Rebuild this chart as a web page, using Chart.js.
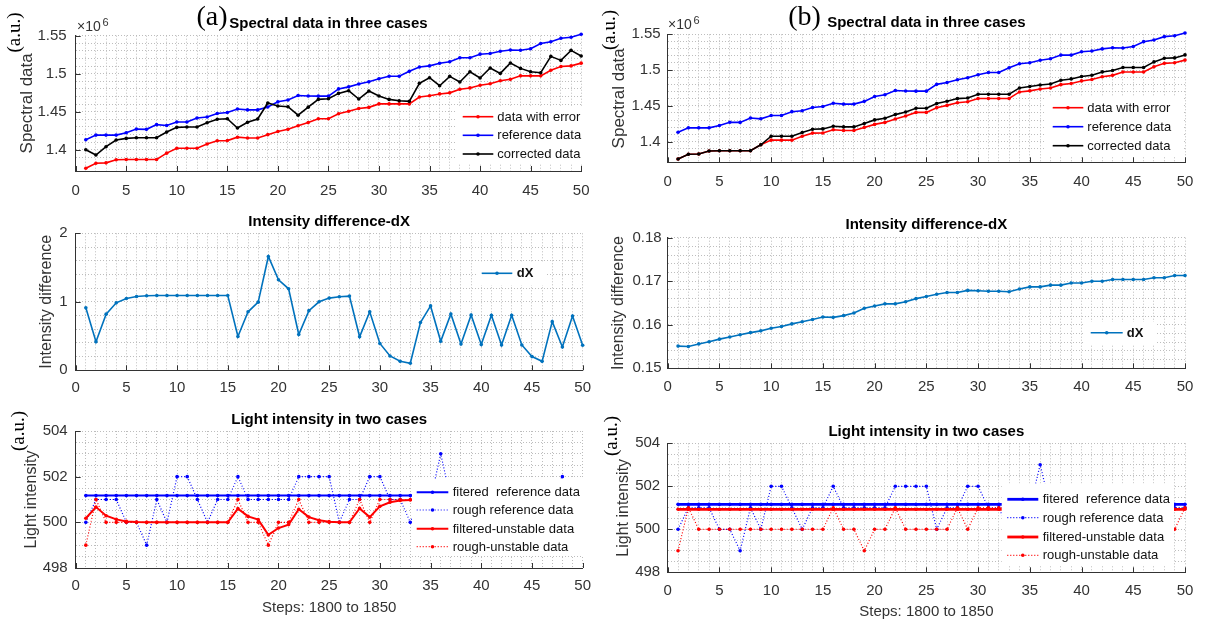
<!DOCTYPE html>
<html>
<head>
<meta charset="utf-8">
<script src="https://cdn.jsdelivr.net/npm/chart.js@4.4.1/dist/chart.umd.min.js"></script>
<style>
  body { margin: 0; background: #fff; }
  #wrap { position: relative; width: 1208px; height: 626px; overflow: hidden; background: #fff; }
  #wrap canvas { position: absolute; }
</style>
</head>
<body>
<div id="wrap"></div>
<script>
// ---- data ----
const steps = [1,2,3,4,5,6,7,8,9,10,11,12,13,14,15,16,17,18,19,20,21,22,23,24,25,
  26,27,28,29,30,31,32,33,34,35,36,37,38,39,40,41,42,43,44,45,46,47,48,49,50];
const xTickLabels = [0, 5, 10, 15, 20, 25, 30, 35, 40, 45, 50];

// spectral data, in units of 1e6
const dataWithError = [1.3757,1.3822,1.3827,1.3868,1.3872,1.3872,1.3872,1.3872,1.3955,1.4020,
  1.4020,1.4020,1.4075,1.4118,1.4120,1.4165,1.4155,1.4155,1.4198,1.4240,
  1.4268,1.4316,1.4357,1.4408,1.4408,1.4474,1.4506,1.4542,1.4557,1.4603,
  1.4603,1.4603,1.4603,1.4694,1.4709,1.4734,1.4748,1.4796,1.4813,1.4848,
  1.4868,1.4907,1.4926,1.4972,1.4972,1.4972,1.5045,1.5094,1.5103,1.5139];
const referenceData = [1.4131,1.4192,1.4192,1.4192,1.4224,1.4271,1.4268,1.4330,1.4318,1.4364,
  1.4364,1.4418,1.4431,1.4477,1.4490,1.4535,1.4524,1.4524,1.4562,1.4630,
  1.4655,1.4714,1.4707,1.4705,1.4705,1.4800,1.4827,1.4864,1.4893,1.4934,
  1.4966,1.4966,1.5031,1.5088,1.5103,1.5137,1.5158,1.5209,1.5209,1.5257,
  1.5266,1.5296,1.5311,1.5308,1.5329,1.5397,1.5420,1.5467,1.5480,1.5519];
const correctedA = [1.4000,1.3930,1.4040,1.4127,1.4149,1.4158,1.4158,1.4158,1.4232,1.4294,
  1.4298,1.4298,1.4355,1.4400,1.4408,1.4285,1.4360,1.4404,1.4614,1.4575,
  1.4566,1.4454,1.4560,1.4662,1.4671,1.4741,1.4776,1.4667,1.4772,1.4706,
  1.4662,1.4645,1.4636,1.4873,1.4947,1.4842,1.4965,1.4890,1.5026,1.4943,
  1.5075,1.5004,1.5140,1.5070,1.5026,1.5013,1.5228,1.5175,1.5307,1.5232];
const correctedB = [1.3757,1.3822,1.3827,1.3868,1.3872,1.3872,1.3872,1.3872,1.3955,1.4075,
  1.4075,1.4075,1.4126,1.4172,1.4177,1.4214,1.4205,1.4205,1.4251,1.4303,
  1.4326,1.4377,1.4414,1.4466,1.4466,1.4531,1.4564,1.4601,1.4610,1.4661,
  1.4661,1.4661,1.4661,1.4750,1.4769,1.4792,1.4806,1.4858,1.4876,1.4909,
  1.4927,1.4974,1.4993,1.5035,1.5035,1.5035,1.5114,1.5165,1.5170,1.5212];
const spectralTicks = [1.4, 1.45, 1.5, 1.55];

// intensity difference
const dXA = [0.912,0.418,0.820,0.985,1.049,1.078,1.088,1.092,1.092,1.092,
  1.092,1.092,1.092,1.092,1.092,0.494,0.854,0.995,1.662,1.321,
  1.190,0.522,0.871,1.000,1.054,1.073,1.083,0.489,0.854,0.392,
  0.209,0.131,0.102,0.696,0.940,0.423,0.822,0.384,0.808,0.375,
  0.803,0.370,0.803,0.370,0.200,0.131,0.710,0.340,0.793,0.365];
const dXB = [0.1551,0.1550,0.1556,0.1561,0.1567,0.1572,0.1577,0.1582,0.1586,0.1592,
  0.1596,0.1602,0.1607,0.1612,0.1618,0.1617,0.1621,0.1627,0.1638,0.1643,
  0.1648,0.1648,0.1653,0.1660,0.1665,0.1670,0.1674,0.1674,0.1679,0.1678,
  0.1677,0.1677,0.1676,0.1682,0.1687,0.1687,0.1691,0.1691,0.1696,0.1696,
  0.1700,0.1700,0.1704,0.1704,0.1704,0.1704,0.1708,0.1708,0.1713,0.1713];
const dxTicksA = [0, 1, 2];
const dxTicksB = [0.15, 0.16, 0.17, 0.18];

// light intensity
const roughReference = [500,501,501,501,500,500,499,501,500,502,
  502,501,500,501,501,502,501,501,501,501,
  501,502,502,502,502,500,501,501,502,502,
  501,501,500,501,501,503,501,501,501,501,
  501,501,501,501,501,501,501,502,501,501];
const roughUnstable = [499,501,500,500,500,500,500,500,500,500,
  500,500,500,500,500,501,500,500,499,500,
  500,501,500,500,500,500,500,501,500,501,
  501,501,501,501,501,501,501,501,501,501,
  501,501,501,501,501,501,501,501,500,501];
const filteredReferenceA = [501.17,501.17,501.17,501.17,501.17,501.17,501.17,501.17,501.17,501.17,
  501.17,501.17,501.17,501.17,501.17,501.17,501.17,501.17,501.17,501.17,
  501.17,501.17,501.17,501.17,501.17,501.17,501.17,501.17,501.17,501.17,
  501.17,501.17,501.17,501.17,501.17,501.17,501.17,501.17,501.17,501.17,
  501.17,501.17,501.17,501.17,501.17,501.17,501.17,501.17,501.17,501.17];
const filteredUnstableA = [500.18,500.67,500.29,500.13,500.04,500.01,500.00,500.00,500.00,500.00,
  500.00,500.00,500.00,500.00,500.00,500.60,500.26,500.12,499.45,499.75,
  499.90,500.57,500.23,500.09,500.03,500.00,500.00,500.61,500.23,500.70,
  500.88,500.96,500.98,501.00,501.00,501.00,501.00,501.00,501.00,501.00,
  501.00,501.00,501.00,501.00,501.00,501.00,501.00,500.30,500.13,500.73];
const filteredReferenceB = [501.16,501.16,501.16,501.16,501.16,501.16,501.16,501.16,501.16,501.16,
  501.16,501.16,501.16,501.16,501.16,501.16,501.16,501.16,501.16,501.16,
  501.16,501.16,501.16,501.16,501.16,501.16,501.16,501.16,501.16,501.16,
  501.16,501.16,501.16,501.16,501.16,501.16,501.16,501.16,501.16,501.16,
  501.16,501.16,501.16,501.16,501.16,501.16,501.16,501.16,501.16,501.16];
const filteredUnstableB = [500.93,500.93,500.93,500.93,500.93,500.93,500.93,500.93,500.93,500.93,
  500.93,500.93,500.93,500.93,500.93,500.93,500.93,500.93,500.93,500.93,
  500.93,500.93,500.93,500.93,500.93,500.93,500.93,500.93,500.93,500.93,
  500.93,500.93,500.93,500.93,500.93,500.93,500.93,500.93,500.93,500.93,
  500.93,500.93,500.93,500.93,500.93,500.93,500.93,500.93,500.93,500.93];
const lightTicks = [498, 500, 502, 504];

// ---- drawing ----
const SANS = '"Liberation Sans", Arial, sans-serif';
const SERIF = '"Liberation Serif", "Times New Roman", serif';
const AXIS = '#333333';
const GRID = '#bdbdbd';
const DOT = [1, 2];

function line(label, values, color, width, dash) {
  return {
    label,
    data: values.map((v, i) => ({ x: steps[i], y: v })),
    borderColor: color,
    backgroundColor: color,
    pointBackgroundColor: color,
    pointBorderWidth: 0,
    pointRadius: 1.8,
    borderWidth: width,
    borderDash: dash || [],
    tension: 0,
    fill: false,
    clip: 6
  };
}

function labeler(list) {
  return v => {
    const hit = list.find(t => Math.abs(t - v) < 1e-7);
    return hit === undefined ? '' : String(hit);
  };
}

// legend drawn inside the plot, MATLAB style
const boxLegend = {
  id: 'boxLegend',
  afterDatasetsDraw(chart, args, o) {
    if (!o || !o.rows) return;
    const ctx = chart.ctx;
    const ox = o.ox, oy = o.oy;
    ctx.save();
    ctx.fillStyle = '#ffffff';
    ctx.fillRect(o.box[0] - ox, o.box[1] - oy, o.box[2] - o.box[0], o.box[3] - o.box[1]);
    ctx.font = o.font;
    ctx.textBaseline = 'middle';
    ctx.textAlign = 'left';
    chart.data.datasets.forEach((ds, i) => {
      const y = o.rows[i] - oy;
      const x1 = o.x1 - ox, x2 = o.x2 - ox;
      ctx.strokeStyle = ds.borderColor;
      ctx.lineWidth = ds.borderWidth;
      ctx.setLineDash(ds.borderDash);
      ctx.beginPath();
      ctx.moveTo(x1, y);
      ctx.lineTo(x2, y);
      ctx.stroke();
      ctx.setLineDash([]);
      ctx.fillStyle = ds.borderColor;
      ctx.beginPath();
      ctx.arc((x1 + x2) / 2, y, ds.pointRadius, 0, Math.PI * 2);
      ctx.fill();
      ctx.fillStyle = '#111111';
      ctx.fillText(ds.label, o.tx - ox, y + 0.5);
    });
    ctx.restore();
  }
};

// small inward tick marks at the labelled ticks
const inTicks = {
  id: 'inTicks',
  afterDraw(chart, args, o) {
    if (!o || !o.yList) return;
    const { ctx, chartArea: a, scales: { x, y } } = chart;
    ctx.save();
    ctx.strokeStyle = AXIS;
    ctx.lineWidth = 1;
    ctx.beginPath();
    xTickLabels.forEach(v => {
      const px = Math.round(x.getPixelForValue(v)) + 0.5;
      ctx.moveTo(px, a.bottom);
      ctx.lineTo(px, a.bottom - 5);
    });
    o.yList.forEach(v => {
      const py = Math.round(y.getPixelForValue(v)) + 0.5;
      ctx.moveTo(a.left, py);
      ctx.lineTo(a.left + 5, py);
    });
    ctx.stroke();
    ctx.restore();
  }
};

// free text: panel letters, units, exponent
const notes = {
  id: 'notes',
  afterDraw(chart, args, o) {
    if (!o || !o.items) return;
    const ctx = chart.ctx;
    o.items.forEach(n => {
      ctx.save();
      ctx.translate(n.x - o.ox, n.y - o.oy);
      if (n.rot) ctx.rotate(n.rot);
      ctx.font = n.font;
      ctx.fillStyle = n.color || '#000';
      ctx.textAlign = n.align || 'center';
      ctx.textBaseline = 'middle';
      ctx.fillText(n.text, 0, 0);
      ctx.restore();
    });
  }
};

function panel(p) {
  const cv = document.createElement('canvas');
  cv.width = p.box[2];
  cv.height = p.box[3];
  cv.style.left = p.box[0] + 'px';
  cv.style.top = p.box[1] + 'px';
  document.getElementById('wrap').appendChild(cv);

  const [cx, cy, cw, ch] = p.box;
  const [al, at, ar, ab] = p.area;
  p.datasets.forEach((d, i) => { d.order = p.datasets.length - i; });

  new Chart(cv.getContext('2d'), {
    type: 'line',
    data: { datasets: p.datasets },
    options: {
      responsive: false,
      animation: false,
      events: [],
      layout: { autoPadding: false, padding: { left: 0, top: 0, bottom: 0, right: cw - (ar - cx) } },
      scales: {
        x: {
          type: 'linear', min: 0, max: 50,
          afterFit: s => { s.height = cy + ch - ab; },
          grid: { color: GRID, lineWidth: 1, drawTicks: false },
          border: { color: AXIS, width: 1, dash: [1, 2] },
          ticks: { stepSize: 1, autoSkip: false, maxRotation: 0, padding: p.xPad,
                   color: AXIS, font: { family: SANS, size: 15 },
                   callback: labeler(xTickLabels) },
          title: p.xTitle ? { display: true, text: p.xTitle, color: AXIS,
                   font: { family: SANS, size: 15 }, padding: { top: 0, bottom: p.xTitlePad } }
                 : { display: false }
        },
        y: {
          type: 'linear', min: p.yMin, max: p.yMax,
          afterFit: s => { s.width = al - cx; },
          grid: { color: GRID, lineWidth: 1, drawTicks: false },
          border: { color: AXIS, width: 1, dash: [1, 2] },
          ticks: { stepSize: p.yStep, autoSkip: false, padding: p.yPad,
                   color: AXIS, font: { family: SANS, size: 15 },
                   callback: labeler(p.yTicks) },
          title: { display: true, text: p.yTitle, color: AXIS,
                   font: { family: SANS, size: p.yTitleSize },
                   padding: { top: p.yTitleX - cx - p.yTitleSize * 0.6, bottom: 0 } }
        }
      },
      plugins: {
        legend: { display: false },
        tooltip: { enabled: false },
        title: {
          display: true, text: p.title, fullSize: false, color: '#000',
          font: { family: SANS, size: 15, weight: 'bold' },
          padding: { top: p.titleY - cy - 9, bottom: at - p.titleY - 9 }
        },
        boxLegend: Object.assign({ ox: cx, oy: cy }, p.legend),
        inTicks: { yList: p.yTicks },
        notes: { ox: cx, oy: cy, items: p.notes || [] }
      }
    },
    plugins: [boxLegend, inTicks, notes]
  });
}

const up = -Math.PI / 2;

panel({
  box: [0, 0, 600, 200], area: [75.7, 35.7, 594, 171],
  title: 'Spectral data in three cases', titleY: 24,
  yTitle: 'Spectral data', yTitleSize: 17, yTitleX: 27,
  yMin: 1.372, yMax: 1.55, yStep: 0.01, yTicks: spectralTicks, xPad: 10.5, yPad: 9,
  datasets: [
    line('data with error', dataWithError, '#ff0000', 1.6),
    line('reference data', referenceData, '#0000ff', 1.6),
    line('corrected data', correctedA, '#000000', 1.6)
  ],
  legend: { box: [455, 106, 591, 164], x1: 462.7, x2: 493.3, tx: 497.3,
            rows: [116.7, 135.3, 154], font: '13px ' + SANS },
  notes: [
    { text: '(a)', x: 212, y: 18, font: '28px ' + SERIF },
    { text: '(a.u.)', x: 15, y: 32.5, rot: up, font: '19px ' + SERIF },
    { text: '\u00d710', x: 77, y: 27, align: 'left', font: '14px ' + SANS, color: AXIS },
    { text: '6', x: 102.5, y: 22.5, align: 'left', font: '11px ' + SANS, color: AXIS }
  ]
});

panel({
  box: [0, 200, 600, 200], area: [75.7, 233.3, 594, 370.3],
  title: 'Intensity difference-dX', titleY: 221.7,
  yTitle: 'Intensity difference', yTitleSize: 16, yTitleX: 47,
  yMin: 0, yMax: 2, yStep: 0.2, yTicks: dxTicksA, xPad: 9, yPad: 8,
  datasets: [ line('dX', dXA, '#0072bd', 1.6) ],
  legend: { box: [476, 262, 546, 285], x1: 481.7, x2: 512.3, tx: 516.7,
            rows: [273.3], font: 'bold 13px ' + SANS }
});

panel({
  box: [0, 400, 600, 226], area: [75.7, 431, 594, 568],
  title: 'Light intensity in two cases', titleY: 420,
  yTitle: 'Light intensity', yTitleSize: 16, yTitleX: 32,
  xTitle: 'Steps: 1800 to 1850', xTitlePad: 9.5,
  yMin: 498, yMax: 504, yStep: 0.5, yTicks: lightTicks, xPad: 9, yPad: 8,
  datasets: [
    line('fitered  reference data', filteredReferenceA, '#0000ff', 2),
    line('rough reference data', roughReference, '#0000ff', 1.2, DOT),
    line('filtered-unstable data', filteredUnstableA, '#ff0000', 2),
    line('rough-unstable data', roughUnstable, '#ff0000', 1.2, DOT)
  ],
  legend: { box: [412, 479, 585, 556], x1: 416.7, x2: 448.3, tx: 452.7,
            rows: [492.3, 510, 528.7, 546.7], font: '13px ' + SANS },
  notes: [
    { text: '(a.u.)', x: 19, y: 431, rot: up, font: '19px ' + SERIF }
  ]
});

panel({
  box: [600, 0, 608, 200], area: [667.7, 34.3, 1185, 162.3],
  title: 'Spectral data in three cases', titleY: 22.7,
  yTitle: 'Spectral data', yTitleSize: 17, yTitleX: 619,
  yMin: 1.371, yMax: 1.55, yStep: 0.01, yTicks: spectralTicks, xPad: 10.5, yPad: 7,
  datasets: [
    line('data with error', dataWithError, '#ff0000', 1.6),
    line('reference data', referenceData, '#0000ff', 1.6),
    line('corrected data', correctedB, '#000000', 1.6)
  ],
  legend: { box: [1046, 97, 1182, 156], x1: 1052.7, x2: 1083.3, tx: 1087.3,
            rows: [107.7, 126.7, 145.7], font: '13px ' + SANS },
  notes: [
    { text: '(b)', x: 804.5, y: 18, font: '28px ' + SERIF },
    { text: '(a.u.)', x: 610, y: 30, rot: up, font: '19px ' + SERIF },
    { text: '\u00d710', x: 668, y: 25, align: 'left', font: '14px ' + SANS, color: AXIS },
    { text: '6', x: 693.5, y: 20.5, align: 'left', font: '11px ' + SANS, color: AXIS }
  ]
});

panel({
  box: [600, 200, 608, 200], area: [667.7, 237.7, 1185, 368.3],
  title: 'Intensity difference-dX', titleY: 225,
  yTitle: 'Intensity difference', yTitleSize: 16, yTitleX: 619,
  yMin: 0.15, yMax: 0.18, yStep: 0.002, yTicks: dxTicksB, xPad: 10, yPad: 6,
  datasets: [ line('dX', dXB, '#0072bd', 1.6) ],
  legend: { box: [1085, 322, 1155, 344], x1: 1090.7, x2: 1122.7, tx: 1126.7,
            rows: [332.7], font: 'bold 13px ' + SANS }
});

panel({
  box: [600, 400, 608, 226], area: [667.7, 443.3, 1185, 572.3],
  title: 'Light intensity in two cases', titleY: 431.7,
  yTitle: 'Light intensity', yTitleSize: 16, yTitleX: 623.5,
  xTitle: 'Steps: 1800 to 1850', xTitlePad: 5,
  yMin: 498, yMax: 504, yStep: 0.5, yTicks: lightTicks, xPad: 10, yPad: 7.5,
  datasets: [
    line('fitered  reference data', filteredReferenceB, '#0000ff', 2.8),
    line('rough reference data', roughReference, '#0000ff', 1.2, DOT),
    line('filtered-unstable data', filteredUnstableB, '#ff0000', 2.8),
    line('rough-unstable data', roughUnstable, '#ff0000', 1.2, DOT)
  ],
  legend: { box: [1001.7, 483.5, 1174, 566], x1: 1007.3, x2: 1038.3, tx: 1042.7,
            rows: [499.3, 517.7, 537, 555.3], font: '13px ' + SANS },
  notes: [
    { text: '(a.u.)', x: 612.5, y: 436, rot: up, font: '19px ' + SERIF }
  ]
});
</script>
</body>
</html>
